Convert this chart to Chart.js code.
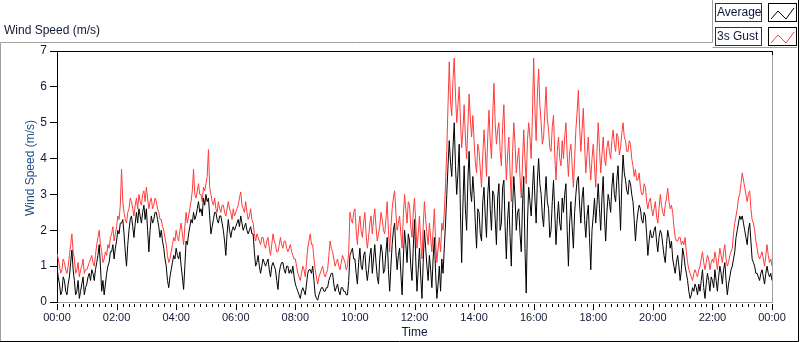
<!DOCTYPE html>
<html>
<head>
<meta charset="utf-8">
<script src="https://cdn.jsdelivr.net/npm/chart.js@4.4.1/dist/chart.umd.min.js"></script>
<style>
html,body{margin:0;padding:0;background:#fff;}
canvas{display:block;}
</style>
</head>
<body>
<canvas id="c" width="800" height="342"></canvas>
<script>
// 3s gust (m/s), one value every 2.5 minutes from 00:00 to 24:00 (24 values per hour)
const gust = [
  1.35,1.2,1.0,0.8,0.9,1.2,1.1,0.9,0.8,1.0,1.3,1.6,1.9,1.4,1.2,0.8,0.9,1.1,0.7,0.9,1.0,1.2,0.8,0.9,
  0.9,1.0,1.1,1.2,1.3,1.1,1.0,1.3,1.6,1.8,2.0,1.6,1.4,1.1,1.2,1.4,1.3,1.6,1.5,1.8,1.9,2.1,1.7,1.9,
  2.1,2.4,2.3,2.7,3.7,2.8,2.5,2.3,2.2,2.5,2.6,2.9,2.8,2.6,2.4,2.7,2.9,2.6,3.0,2.8,2.7,3.0,3.1,2.8,
  3.2,2.9,2.6,2.8,2.9,2.6,2.7,2.9,2.8,2.6,2.5,2.3,2.3,2.1,2.0,1.8,1.6,1.3,1.1,1.2,1.4,1.6,1.8,1.7,
  2.0,1.8,1.7,2.0,2.2,1.9,1.6,2.1,2.5,2.2,2.4,2.6,2.8,3.1,3.7,3.0,2.9,3.1,3.3,3.0,3.0,2.8,3.2,3.1,
  3.3,3.5,4.25,3.2,3.0,2.8,2.7,2.9,2.6,2.5,2.8,2.6,2.5,2.7,2.7,2.5,2.4,2.6,2.8,2.6,2.5,2.3,2.6,2.4,
  2.5,2.6,2.7,2.9,3.07,2.7,2.6,2.5,2.8,2.5,2.3,2.4,2.6,2.3,2.2,1.9,1.7,1.9,1.8,1.7,1.6,1.8,1.8,1.6,
  1.5,1.7,1.8,1.5,1.3,1.6,1.9,1.7,1.6,1.4,1.4,1.6,1.8,1.6,1.5,1.7,1.7,1.5,1.4,1.5,1.6,1.4,1.3,1.2,
  1.2,1.0,0.8,0.7,0.6,0.8,1.0,0.9,0.7,1.1,1.5,1.7,1.9,1.6,1.6,1.2,0.9,0.7,0.5,0.7,0.8,0.9,1.0,0.8,
  0.7,0.8,0.9,1.3,1.7,1.5,1.4,1.2,1.0,1.1,1.2,1.0,0.9,1.1,1.3,1.2,1.1,0.9,1.0,1.4,2.5,2.3,2.2,2.5,
  2.6,2.0,1.6,2.1,2.4,2.0,1.8,2.2,2.5,1.9,1.5,1.8,2.2,2.4,1.9,2.3,2.6,2.1,1.7,1.9,2.1,2.5,2.3,2.0,
  1.9,2.3,2.8,2.0,1.4,2.1,2.6,2.9,3.1,2.5,2.0,2.2,2.4,1.9,1.5,2.4,3.0,2.6,2.2,2.8,2.7,2.1,1.8,2.5,
  2.9,2.2,1.5,1.9,2.4,1.7,1.2,2.1,2.8,2.3,1.9,1.6,2.2,1.8,1.4,2.0,2.6,1.7,1.1,1.5,1.8,1.4,2.2,2.0,
  2.5,3.3,4.2,5.5,6.7,5.6,5.2,6.2,6.8,5.8,5.0,5.5,6.0,5.1,4.3,4.8,5.5,4.6,4.0,4.9,5.8,5.1,4.6,5.2,
  4.5,3.9,3.6,4.4,4.2,3.7,3.2,4.1,4.8,4.2,3.5,4.6,5.35,4.5,4.0,5.2,6.1,5.0,4.4,4.8,5.0,4.2,3.8,4.9,
  5.5,4.3,3.4,4.1,4.6,3.6,2.8,4.2,5.0,4.4,3.6,4.0,4.3,3.5,2.9,3.9,4.8,4.0,3.3,4.5,5.0,4.6,4.0,5.2,
  6.8,5.4,4.5,5.8,6.5,5.5,5.0,4.4,4.6,5.3,6.0,5.1,4.8,4.3,4.2,4.9,5.2,4.1,3.4,4.2,4.6,4.0,3.8,4.5,
  4.0,4.6,5.0,4.1,3.5,4.2,4.4,3.8,3.2,4.0,4.8,5.3,5.9,4.9,4.2,4.8,5.4,4.4,3.6,4.1,4.6,3.9,3.4,4.0,
  4.4,3.8,3.2,4.2,5.0,4.3,3.6,4.1,4.6,4.0,3.8,4.3,4.5,4.2,4.0,4.5,4.8,4.4,4.2,4.7,4.6,4.1,4.3,4.7,
  5.0,4.6,4.5,4.2,4.2,4.5,4.4,4.0,3.8,3.5,3.7,3.4,3.4,3.6,3.2,3.0,3.0,3.3,3.2,2.8,2.6,2.8,2.9,2.6,
  2.4,2.6,2.8,2.4,2.2,2.6,3.0,2.7,2.5,2.4,2.7,2.9,3.17,2.8,2.6,2.7,2.5,2.1,1.8,1.7,1.7,1.8,1.8,1.6,
  1.7,1.6,1.8,1.4,1.1,0.9,0.8,0.7,0.6,0.8,0.9,0.8,0.7,0.9,1.0,1.2,1.4,1.1,0.9,1.1,1.3,1.2,0.9,1.1,
  1.2,1.1,1.4,1.2,0.9,1.2,1.5,1.3,1.1,1.4,1.6,1.2,1.0,1.1,1.3,1.4,1.5,1.9,2.2,2.4,2.6,2.9,3.0,3.3,
  3.6,3.4,3.2,3.0,2.8,3.0,3.1,2.6,2.3,2.2,2.0,1.7,1.5,1.3,1.2,1.3,1.4,1.2,1.0,1.3,1.6,1.3,1.1,1.2,
  1.0
];
// average wind speed (m/s), same sampling
const average = [
  0.95,0.7,0.5,0.2,0.3,0.7,0.6,0.3,0.2,0.5,0.7,1.1,1.45,0.9,0.6,0.2,0.3,0.6,0.1,0.3,0.5,0.7,0.2,0.4,
  0.5,0.7,0.8,0.6,0.9,0.8,0.6,0.9,1.1,1.3,1.6,1.0,0.3,0.6,0.2,0.5,0.8,1.0,1.1,1.4,1.4,1.6,1.2,1.5,
  1.7,2.0,1.9,2.2,2.2,2.3,1.9,1.4,1.0,1.6,2.0,2.3,2.4,2.1,1.8,2.2,2.5,2.2,2.6,2.4,2.2,2.5,2.7,2.3,
  2.6,2.0,1.4,2.0,2.4,2.2,2.3,2.5,2.5,2.3,2.1,1.8,2.0,1.7,1.5,1.2,1.0,0.6,0.4,0.7,0.9,1.1,1.3,1.2,
  1.5,1.3,1.2,1.4,1.0,0.7,0.35,1.0,1.7,1.6,1.9,2.1,2.3,2.2,2.5,2.3,2.4,2.6,2.8,2.5,2.6,2.4,2.9,2.7,
  3.0,2.8,2.9,2.4,1.9,2.1,2.3,2.5,2.5,2.3,2.2,2.4,2.4,2.2,2.0,1.7,1.3,1.9,2.3,2.0,1.8,2.0,2.1,2.0,
  2.1,2.2,2.3,2.1,2.4,2.2,2.0,2.1,2.2,2.0,1.9,2.0,2.1,1.9,1.9,1.4,1.0,1.1,1.3,1.0,0.8,1.0,1.2,1.1,
  1.0,1.1,1.2,0.9,0.7,1.0,1.1,1.0,0.9,0.6,0.35,0.8,1.0,1.1,1.1,0.9,0.8,1.0,1.0,0.8,0.9,0.8,1.0,0.7,
  0.5,0.4,0.3,0.2,0.1,0.3,0.4,0.3,0.2,0.5,0.8,0.9,0.9,0.8,1.0,0.6,0.2,0.1,0.05,0.2,0.3,0.4,0.4,0.3,
  0.3,0.4,0.4,0.6,0.7,0.8,0.8,0.5,0.3,0.4,0.5,0.3,0.2,0.4,0.4,0.3,0.3,0.2,0.2,0.6,1.3,1.4,1.5,1.2,
  1.2,0.8,0.5,1.1,1.5,1.0,0.9,1.3,1.4,0.9,0.6,0.9,1.3,1.5,0.8,1.2,1.6,1.1,0.7,0.5,1.2,1.6,1.4,0.8,
  0.9,1.4,1.8,0.9,0.3,1.0,1.6,2.0,2.2,1.4,0.9,1.3,1.5,0.8,0.2,1.2,2.0,1.6,1.1,1.9,1.7,1.0,0.6,1.5,
  2.3,1.2,0.3,0.9,1.5,0.7,0.1,1.1,2.0,1.5,1.0,0.6,1.3,0.9,0.4,1.2,1.8,0.8,0.1,0.5,1.0,0.3,1.2,0.8,
  1.5,2.2,3.0,3.8,4.5,3.9,3.5,4.3,5.0,3.8,3.0,3.6,4.4,2.5,1.1,2.7,3.8,2.6,2.0,3.4,4.2,3.1,2.8,3.5,
  3.0,2.2,1.5,2.6,2.5,1.9,1.7,2.8,3.2,2.4,1.8,3.0,3.5,2.6,2.0,3.1,3.0,2.3,1.6,2.9,3.3,2.0,2.2,3.2,
  3.4,2.1,1.2,2.3,2.8,1.8,1.0,2.6,3.5,2.9,2.0,2.5,2.6,1.9,1.4,2.7,3.5,1.5,0.25,2.2,3.2,2.8,2.4,3.1,
  3.8,2.9,2.2,3.4,4.0,3.3,3.0,2.4,2.1,2.9,3.5,2.8,2.6,1.8,2.0,2.8,3.4,2.5,1.6,2.3,2.8,2.2,2.0,2.9,
  2.5,3.0,3.3,2.0,1.0,2.2,2.8,2.1,1.5,2.5,3.0,3.4,3.5,2.7,2.2,2.9,3.2,2.3,1.8,2.4,2.7,1.8,0.9,2.0,
  2.4,2.9,2.2,2.7,3.3,2.6,2.0,2.9,3.5,2.4,1.7,2.5,3.0,2.8,2.5,3.2,3.6,3.0,2.8,3.4,3.8,2.9,2.0,3.3,
  4.1,3.6,3.4,3.1,3.0,3.4,3.3,3.0,2.8,2.3,1.7,2.2,2.5,2.7,2.6,2.3,2.2,2.5,2.4,1.9,1.3,1.7,2.0,1.8,
  1.8,2.0,2.1,1.7,1.4,1.8,2.0,1.9,1.6,1.3,1.1,1.6,2.0,1.8,1.5,1.7,1.2,1.0,0.8,1.1,1.3,1.0,0.6,0.9,
  1.5,1.3,1.0,0.8,0.6,0.3,0.1,0.2,0.4,0.3,0.5,0.4,0.2,0.5,0.3,0.6,0.9,0.4,0.1,0.5,0.8,0.6,0.3,0.7,
  0.6,0.4,0.9,0.6,0.3,0.7,1.0,0.8,0.5,0.9,1.1,0.6,0.2,0.5,0.7,0.9,1.0,1.2,1.4,1.8,2.0,2.2,2.4,2.3,
  2.4,2.2,2.0,1.8,1.6,2.0,2.2,1.7,1.2,1.1,1.0,0.8,0.8,0.7,0.6,0.8,0.9,0.7,0.5,0.8,1.0,0.8,0.7,0.8,
  0.6
];
const sampleMinutes = 2.5;
const xTickLabels = ['00:00','02:00','04:00','06:00','08:00','10:00','12:00','14:00','16:00','18:00','20:00','22:00','00:00'];
const yTickValues = [0,1,2,3,4,5,6,7];
const seriesNames = ['Average','3s Gust'];

const FONT = '"Liberation Sans", Arial, sans-serif';
const toPts = arr => arr.map((v,i)=>({x:i*sampleMinutes, y:v}));

const decor = {
  id:'decor',
  afterDraw(chart){
    const ctx = chart.ctx, a = chart.chartArea;
    const xs = chart.scales.x;
    ctx.save();
    ctx.lineWidth = 1;
    ctx.strokeStyle = '#a0a0a0';
    ctx.beginPath();
    ctx.moveTo(0.5, 341); ctx.lineTo(0.5, 42.5); ctx.lineTo(712.5, 42.5);
    ctx.lineTo(712.5, 0);
    ctx.moveTo(712.5, 47.5); ctx.lineTo(797, 47.5);
    ctx.stroke();
    ctx.strokeStyle = '#000';
    ctx.beginPath();
    ctx.moveTo(798.5, 0); ctx.lineTo(798.5, 341.5); ctx.lineTo(0, 341.5);
    ctx.stroke();
    ctx.strokeStyle = '#000';
    ctx.beginPath(); ctx.moveTo(a.left, a.top + 0.5); ctx.lineTo(a.right + 1, a.top + 0.5); ctx.stroke();
    ctx.strokeStyle = '#a0a0a0';
    ctx.beginPath(); ctx.moveTo(a.right + 0.5, a.top + 4); ctx.lineTo(a.right + 0.5, a.bottom + 1); ctx.stroke();
    ctx.strokeStyle = '#000';
    ctx.beginPath(); ctx.moveTo(a.right + 0.5, a.top); ctx.lineTo(a.right + 0.5, a.top + 4); ctx.stroke();
    ctx.strokeStyle = '#000';
    ctx.beginPath();
    for (let m = 0; m <= 1440; m += 12) {
      const px = Math.round(xs.getPixelForValue(m)) + 0.5;
      const major = m % 120 === 0;
      ctx.moveTo(px, a.bottom + 2);
      ctx.lineTo(px, a.bottom + (major ? 8 : 5));
    }
    ctx.stroke();
    ctx.fillStyle = '#101838';
    ctx.font = '12px ' + FONT;
    ctx.textBaseline = 'middle';
    ctx.textAlign = 'left';
    ctx.fillText('Wind Speed (m/s)', 4, 31);
    ctx.textAlign = 'center';
    ctx.fillText('Time', (a.left + a.right) / 2, 333);
    ctx.save();
    ctx.translate(31, 168);
    ctx.rotate(-Math.PI / 2);
    ctx.fillStyle = '#25508a';
    ctx.fillText('Wind Speed (m/s)', 0, 0);
    ctx.restore();
    const rows = [
      {name: seriesNames[0], color: '#000', y: 3},
      {name: seriesNames[1], color: '#ff3b3b', y: 27}
    ];
    rows.forEach(r => {
      ctx.fillStyle = '#fff';
      ctx.fillRect(715, r.y, 47, 18);
      ctx.strokeStyle = '#303040';
      ctx.strokeRect(715.5, r.y + 0.5, 46, 18);
      ctx.fillStyle = '#101838';
      ctx.textAlign = 'left';
      ctx.fillText(r.name, 717, r.y + 10);
      ctx.fillStyle = '#fff';
      ctx.fillRect(768, r.y, 29, 18);
      ctx.strokeStyle = '#000';
      ctx.strokeRect(768.5, r.y + 0.5, 28, 18);
      ctx.strokeStyle = r.color;
      ctx.beginPath();
      ctx.moveTo(771, r.y + 16); ctx.lineTo(778, r.y + 8); ctx.lineTo(786, r.y + 16); ctx.lineTo(794, r.y + 5);
      ctx.stroke();
    });
    ctx.restore();
  }
};

new Chart(document.getElementById('c'), {
  type: 'line',
  data: {
    datasets: [
      {label: seriesNames[0], data: toPts(average), borderColor: '#000000', borderWidth: 1, pointRadius: 0, tension: 0, order: 0},
      {label: seriesNames[1], data: toPts(gust), borderColor: '#ff3b3b', borderWidth: 1, pointRadius: 0, tension: 0, order: 1}
    ]
  },
  options: {
    responsive: false,
    animation: false,
    devicePixelRatio: 1,
    layout: {padding: {top: 51, right: 28, left: 0, bottom: 0}},
    plugins: {legend: {display: false}, tooltip: {enabled: false}},
    scales: {
      x: {
        type: 'linear', min: 0, max: 1440,
        afterFit: s => { s.height = 40; },
        ticks: {
          stepSize: 120, autoSkip: false, maxRotation: 0, minRotation: 0, padding: 9,
          color: '#101838', font: {size: 11, family: FONT},
          callback: v => xTickLabels[Math.round(v / 120)]
        },
        grid: {display: true, drawOnChartArea: false, drawTicks: false},
        border: {display: true, color: '#a0a0a0', width: 1}
      },
      y: {
        min: 0, max: 7,
        afterFit: s => { s.width = 57; },
        afterBuildTicks: s => { s.ticks = yTickValues.map(v => ({value: v})); },
        ticks: {color: '#101838', font: {size: 12, family: FONT}, padding: 3},
        grid: {display: true, drawOnChartArea: false, drawTicks: true, tickLength: 7, color: '#000'},
        border: {display: true, color: '#000', width: 1}
      }
    }
  },
  plugins: [decor]
});
</script>
</body>
</html>
